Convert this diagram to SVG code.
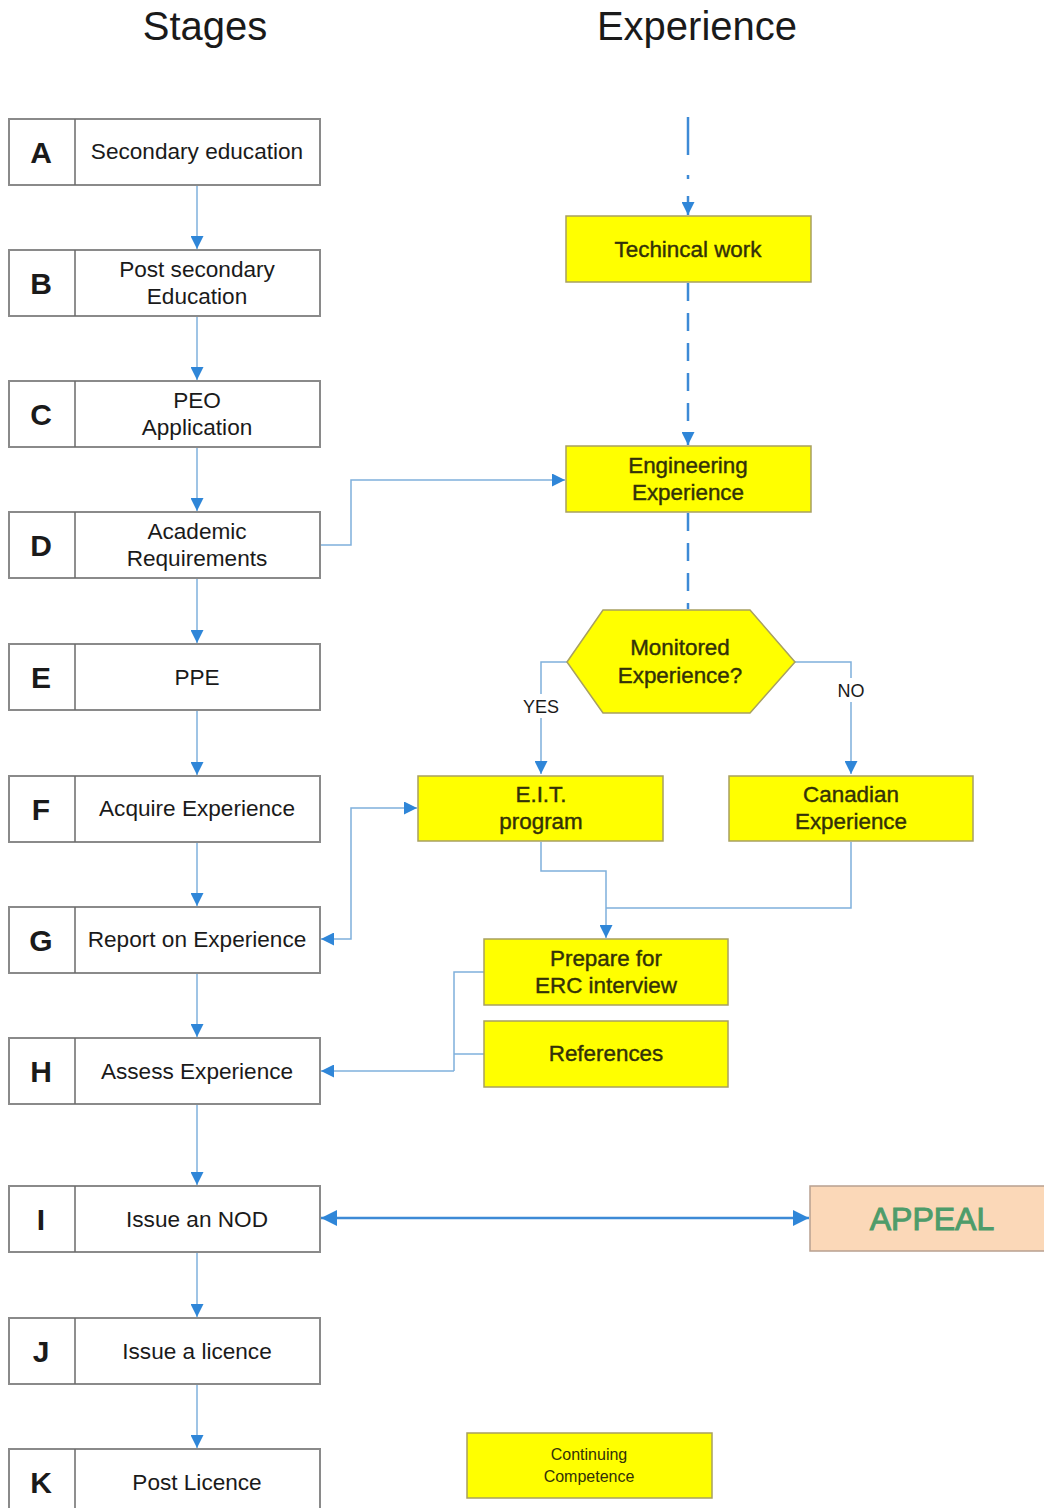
<svg xmlns="http://www.w3.org/2000/svg" width="1044" height="1508" viewBox="0 0 1044 1508">
<style>
.title{font-family:"Liberation Sans",Arial,sans-serif;font-size:40px;fill:#1a1a1a;text-anchor:middle}
.stage rect{fill:#fff;stroke:#8a8a8a;stroke-width:2}
.stage line{stroke:#6a6a6a;stroke-width:1.5}
.let{font-family:"Liberation Sans",Arial,sans-serif;font-size:30px;font-weight:bold;fill:#1a1a1a;text-anchor:middle}
.lbl{font-family:"Liberation Sans",Arial,sans-serif;font-size:22.6px;fill:#1a1a1a;text-anchor:middle}
.yb{fill:#ffff00;stroke:#a8a060;stroke-width:1.5}
.yt{font-family:"Liberation Sans",Arial,sans-serif;font-size:22.4px;fill:#333108;stroke:#333108;stroke-width:0.4;text-anchor:middle}
.sm{font-family:"Liberation Sans",Arial,sans-serif;font-size:18px;fill:#1a1a1a;text-anchor:middle}
.c{fill:none;stroke:#7fb0dc;stroke-width:1.5}
.cd{fill:none;stroke:#3d8ad6;stroke-width:2.5;stroke-dasharray:18,12}
.cs{fill:none;stroke:#3d8ad6;stroke-width:2.5}
</style>
<defs>
<marker id="ah" viewBox="0 0 10 10" refX="10" refY="5" markerWidth="15" markerHeight="13" markerUnits="userSpaceOnUse" orient="auto-start-reverse">
<path d="M0,0 L10,5 L0,10 z" fill="#2f86d8"/>
</marker>
<marker id="ahL" viewBox="0 0 10 10" refX="10" refY="5" markerWidth="16" markerHeight="16" markerUnits="userSpaceOnUse" orient="auto-start-reverse">
<path d="M0,0 L10,5 L0,10 z" fill="#2f86d8"/>
</marker>
</defs>

<text class="title" x="205" y="40">Stages</text>
<text class="title" x="697" y="40">Experience</text>

<g id="connectors">
<path class="c" d="M197,186 V249" marker-end="url(#ah)"/>
<path class="c" d="M197,317 V380" marker-end="url(#ah)"/>
<path class="c" d="M197,448 V511" marker-end="url(#ah)"/>
<path class="c" d="M197,579 V643" marker-end="url(#ah)"/>
<path class="c" d="M197,711 V775" marker-end="url(#ah)"/>
<path class="c" d="M197,843 V906" marker-end="url(#ah)"/>
<path class="c" d="M197,974 V1037" marker-end="url(#ah)"/>
<path class="c" d="M197,1105 V1185" marker-end="url(#ah)"/>
<path class="c" d="M197,1253 V1317" marker-end="url(#ah)"/>
<path class="c" d="M197,1385 V1448" marker-end="url(#ah)"/>
<path class="c" d="M320,545 H351 V480 H565" marker-end="url(#ah)"/>
<path class="c" d="M321,939 H351 V808 H417" marker-start="url(#ah)" marker-end="url(#ah)"/>
<path class="cs" d="M688,117 V155"/>
<path class="cs" d="M688,175 V179"/>
<path class="cs" d="M688,196 V215" marker-end="url(#ah)"/>
<path class="cd" d="M688,283 V445" marker-end="url(#ah)"/>
<path class="cd" d="M688,513 V609"/>
<path class="c" d="M567,662 H541 V774" marker-end="url(#ah)"/>
<path class="c" d="M795,662 H851 V774" marker-end="url(#ah)"/>
<path class="c" d="M541,842 V871 H606 V938" marker-end="url(#ah)"/>
<path class="c" d="M851,842 V908 H606"/>
<path class="c" d="M484,972 H454 V1071"/>
<path class="c" d="M484,1054 H454"/>
<path class="c" d="M454,1071 H321" marker-end="url(#ah)"/>
<path class="cs" d="M321,1218 H809" marker-start="url(#ahL)" marker-end="url(#ahL)"/>
<rect x="521" y="694" width="40" height="24" fill="#fff"/>
<text class="sm" x="541" y="713">YES</text>
<rect x="834" y="678" width="34" height="24" fill="#fff"/>
<text class="sm" x="851" y="697">NO</text>
</g>

<g id="stage-A" class="stage"><rect x="9" y="119" width="311" height="66"/><line x1="75" y1="119" x2="75" y2="185"/><text class="let" x="41" y="163">A</text><text class="lbl" x="197" y="159">Secondary education</text></g>
<g id="stage-B" class="stage"><rect x="9" y="250" width="311" height="66"/><line x1="75" y1="250" x2="75" y2="316"/><text class="let" x="41" y="294">B</text><text class="lbl" x="197" y="277">Post secondary</text><text class="lbl" x="197" y="304">Education</text></g>
<g id="stage-C" class="stage"><rect x="9" y="381" width="311" height="66"/><line x1="75" y1="381" x2="75" y2="447"/><text class="let" x="41" y="425">C</text><text class="lbl" x="197" y="408">PEO</text><text class="lbl" x="197" y="435">Application</text></g>
<g id="stage-D" class="stage"><rect x="9" y="512" width="311" height="66"/><line x1="75" y1="512" x2="75" y2="578"/><text class="let" x="41" y="556">D</text><text class="lbl" x="197" y="539">Academic</text><text class="lbl" x="197" y="566">Requirements</text></g>
<g id="stage-E" class="stage"><rect x="9" y="644" width="311" height="66"/><line x1="75" y1="644" x2="75" y2="710"/><text class="let" x="41" y="688">E</text><text class="lbl" x="197" y="685">PPE</text></g>
<g id="stage-F" class="stage"><rect x="9" y="776" width="311" height="66"/><line x1="75" y1="776" x2="75" y2="842"/><text class="let" x="41" y="820">F</text><text class="lbl" x="197" y="816">Acquire Experience</text></g>
<g id="stage-G" class="stage"><rect x="9" y="907" width="311" height="66"/><line x1="75" y1="907" x2="75" y2="973"/><text class="let" x="41" y="951">G</text><text class="lbl" x="197" y="947">Report on Experience</text></g>
<g id="stage-H" class="stage"><rect x="9" y="1038" width="311" height="66"/><line x1="75" y1="1038" x2="75" y2="1104"/><text class="let" x="41" y="1082">H</text><text class="lbl" x="197" y="1079">Assess Experience</text></g>
<g id="stage-I" class="stage"><rect x="9" y="1186" width="311" height="66"/><line x1="75" y1="1186" x2="75" y2="1252"/><text class="let" x="41" y="1230">I</text><text class="lbl" x="197" y="1227">Issue an NOD</text></g>
<g id="stage-J" class="stage"><rect x="9" y="1318" width="311" height="66"/><line x1="75" y1="1318" x2="75" y2="1384"/><text class="let" x="41" y="1362">J</text><text class="lbl" x="197" y="1359">Issue a licence</text></g>
<g id="stage-K" class="stage"><rect x="9" y="1449" width="311" height="66"/><line x1="75" y1="1449" x2="75" y2="1515"/><text class="let" x="41" y="1493">K</text><text class="lbl" x="197" y="1490">Post Licence</text></g>

<g id="technical-work"><rect class="yb" x="566" y="216" width="245" height="66"/><text class="yt" x="688" y="257">Techincal work</text></g>
<g id="engineering-experience"><rect class="yb" x="566" y="446" width="245" height="66"/><text class="yt" x="688" y="473">Engineering</text><text class="yt" x="688" y="500">Experience</text></g>
<g id="monitored"><polygon class="yb" points="567,662 603,610 750,610 795,662 750,713 603,713"/><text class="yt" x="680" y="655">Monitored</text><text class="yt" x="680" y="683">Experience?</text></g>
<g id="eit"><rect class="yb" x="418" y="776" width="245" height="65"/><text class="yt" x="541" y="802">E.I.T.</text><text class="yt" x="541" y="829">program</text></g>
<g id="canadian"><rect class="yb" x="729" y="776" width="244" height="65"/><text class="yt" x="851" y="802">Canadian</text><text class="yt" x="851" y="829">Experience</text></g>
<g id="prepare-erc"><rect class="yb" x="484" y="939" width="244" height="66"/><text class="yt" x="606" y="966">Prepare for</text><text class="yt" x="606" y="993">ERC interview</text></g>
<g id="references"><rect class="yb" x="484" y="1021" width="244" height="66"/><text class="yt" x="606" y="1061">References</text></g>
<g id="appeal"><rect x="810" y="1186" width="240" height="65" fill="#fbd8b8" stroke="#b8a090" stroke-width="1.5"/><text x="932" y="1230" font-family="Liberation Sans,Arial,sans-serif" font-size="32" fill="#4e9c6a" stroke="#4e9c6a" stroke-width="1" text-anchor="middle">APPEAL</text></g>
<g id="continuing-competence"><rect class="yb" x="467" y="1433" width="245" height="65"/><text x="589" y="1460" font-family="Liberation Sans,Arial,sans-serif" font-size="16" fill="#333108" text-anchor="middle">Continuing</text><text x="589" y="1482" font-family="Liberation Sans,Arial,sans-serif" font-size="16" fill="#333108" text-anchor="middle">Competence</text></g>
</svg>
